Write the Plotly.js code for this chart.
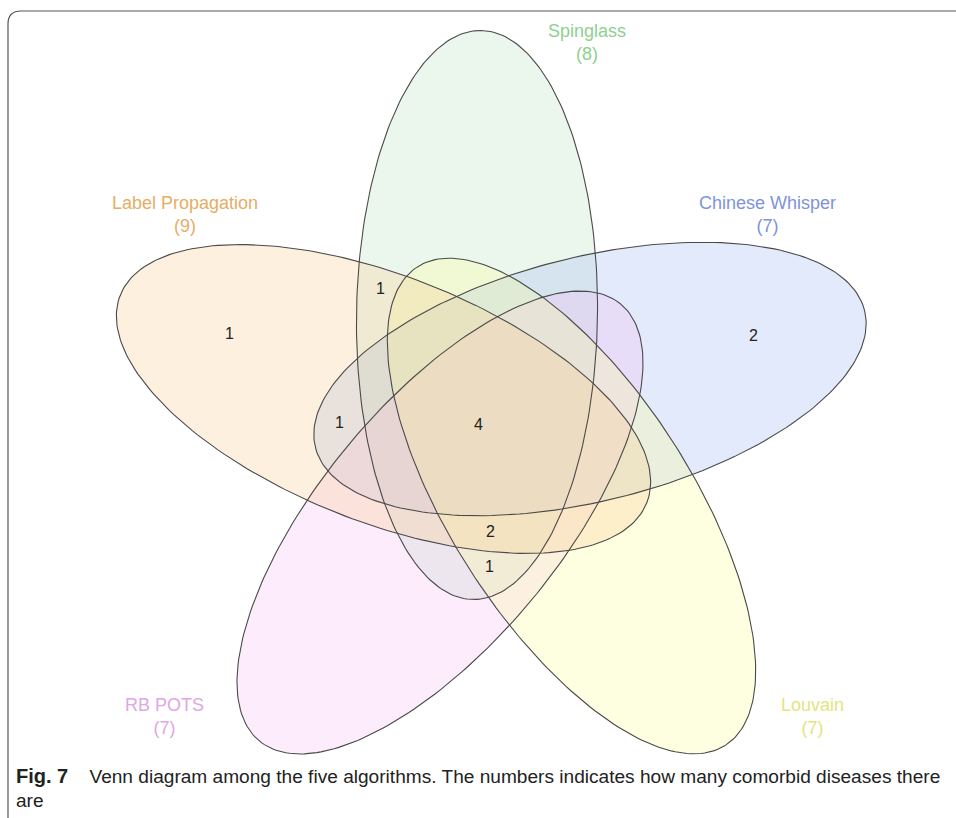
<!DOCTYPE html>
<html>
<head>
<meta charset="utf-8">
<script src="https://cdn.plot.ly/plotly-3.0.1.min.js"></script>
<style>html,body{margin:0;padding:0;background:#fff;}#chart{width:956px;height:818px;}</style>
</head>
<body>
<div id="chart"></div>
<script>
// ---- data ----
var setNames = ["Label Propagation", "Spinglass", "Chinese Whisper", "RB POTS", "Louvain"];
var setSizes = [9, 8, 7, 7, 7];
var regionCounts = [1, 1, 2, 1, 4, 2, 1];

// ---- geometry / styling (screen-like coordinates: x right, y down) ----
var ellCx = [383.5, 477, 590, 440, 571.5];
var ellCy = [399, 315, 379, 522.5, 506];
var ellA = [283, 284.5, 283, 283.5, 284.5];
var ellB = [123, 120.5, 122, 120, 120];
var ellAngle = [21.5, -89.2, -14, -50.4, 57.2];
var fillColors = ["rgba(248,205,145,0.3)", "rgba(188,228,192,0.3)", "rgba(162,185,242,0.3)",
                  "rgba(245,192,245,0.3)", "rgba(252,252,155,0.3)"];
var drawOrder = [1, 2, 3, 4, 0];
var labelColors = ["#e7ad66", "#8fd08f", "#7f93da", "#e0a6e6", "#e2e57e"];
var labelX = [184.5, 587, 767.5, 164.5, 812.5];
var labelY = [214, 42, 214, 716, 716];
var regionX = [229, 380, 753, 339, 478, 490, 489];
var regionY = [333, 288, 335, 422, 424, 531, 566];

function ellipsePts(i) {
  var th = ellAngle[i] * Math.PI / 180;
  var xs = [], ys = [];
  var N = 240;
  for (var k = 0; k <= N; k++) {
    var t = 2 * Math.PI * k / N;
    var u = ellA[i] * Math.cos(t), v = ellB[i] * Math.sin(t);
    xs.push(ellCx[i] + u * Math.cos(th) - v * Math.sin(th));
    ys.push(ellCy[i] + u * Math.sin(th) + v * Math.cos(th));
  }
  return [xs, ys];
}

var traces = [];
drawOrder.forEach(function (i) {
  var p = ellipsePts(i);
  traces.push({
    x: p[0], y: p[1], type: "scatter", mode: "lines", fill: "toself",
    fillcolor: fillColors[i], line: {width: 0, color: "rgba(0,0,0,0)"},
    hoverinfo: "skip", showlegend: false, name: setNames[i]
  });
});
drawOrder.forEach(function (i) {
  var p = ellipsePts(i);
  traces.push({
    x: p[0], y: p[1], type: "scatter", mode: "lines",
    line: {color: "#4a4a4a", width: 1.1},
    hoverinfo: "skip", showlegend: false, name: setNames[i] + " outline"
  });
});

var annotations = [];
var labelFont = "Liberation Sans, Arial, sans-serif";
for (var j = 0; j < setNames.length; j++) {
  annotations.push({x: labelX[j], y: labelY[j], xref: "x", yref: "y",
    text: setNames[j] + "<br>(" + setSizes[j] + ")", align: "center",
    showarrow: false, font: {family: labelFont, size: 18, color: labelColors[j]}, xanchor: "center", yanchor: "middle"});
}
for (var r = 0; r < regionCounts.length; r++) {
  annotations.push({x: regionX[r], y: regionY[r], xref: "x", yref: "y", text: String(regionCounts[r]),
    showarrow: false, font: {family: labelFont, size: 16, color: "#222"}, xanchor: "center", yanchor: "middle"});
}
var capFont = "Liberation Sans, Arial, sans-serif";
annotations.push({x: 14, y: 776, xref: "x", yref: "y", xanchor: "left", yanchor: "middle", showarrow: false,
  text: "<b><span style=\"font-size:20px\">Fig. 7</span></b>\u00a0\u00a0\u00a0\u00a0Venn diagram among the five algorithms. The numbers indicates how many comorbid diseases there",
  font: {family: capFont, size: 19.1, color: "#222"}});
annotations.push({x: 14, y: 800, xref: "x", yref: "y", xanchor: "left", yanchor: "middle", showarrow: false,
  text: "are", font: {family: capFont, size: 19.1, color: "#222"}});

var layout = {
  width: 956, height: 818,
  margin: {l: 0, r: 0, t: 0, b: 0, pad: 0},
  paper_bgcolor: "#ffffff", plot_bgcolor: "#ffffff",
  xaxis: {range: [0, 956], autorange: false, visible: false, fixedrange: true},
  yaxis: {range: [818, 0], autorange: false, visible: false, fixedrange: true},
  showlegend: false,
  annotations: annotations,
  shapes: [{type: "path", xref: "x", yref: "y", path: "M 8 818 L 8 24 Q 8 11 21 11 L 956 11",
    line: {color: "#555", width: 1.2}}]
};
Plotly.newPlot("chart", traces, layout, {displayModeBar: false, staticPlot: true});
</script>
</body>
</html>
